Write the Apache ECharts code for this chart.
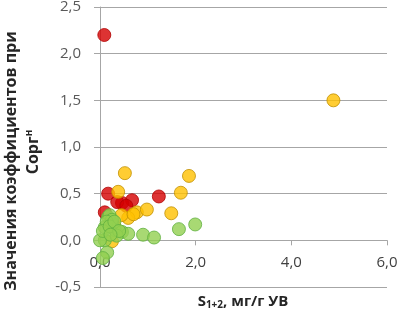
<!DOCTYPE html>
<html>
<head>
<meta charset="utf-8">
<script src="https://cdn.jsdelivr.net/npm/echarts@6/dist/echarts.min.js"></script>
<style>
  html, body { margin: 0; padding: 0; background: #fff; }
  #chart { width: 400px; height: 309px; }
</style>
</head>
<body>
<div id="chart"></div>
<script>
// values: [S1+2, coefficient]
const redPoints = [
  [0.09, 2.2], [0.17, 0.50], [0.67, 0.43], [1.23, 0.47],
  [0.46, 0.40], [0.36, 0.41], [0.10, 0.30], [0.55, 0.37]
]
const yellowPoints = [
  [4.88, 1.50], [0.52, 0.72], [0.38, 0.52], [0.77, 0.30], [0.98, 0.33],
  [0.59, 0.24], [1.86, 0.69], [1.69, 0.51], [1.49, 0.29], [0.25, -0.01],
  [0.45, 0.27], [0.70, 0.28], [0.30, 0.15]
]
const greenPoints = [
  [0.17, 0.25], [0.25, 0.18], [0.10, 0.14], [0.31, 0.11], [0.46, 0.09],
  [0.59, 0.07], [0.90, 0.06], [1.13, 0.03], [1.99, 0.17], [1.65, 0.12],
  [0.10, 0.00], [0.15, -0.13], [0.00, 0.00], [0.20, 0.27], [0.25, 0.22],
  [0.14, 0.20], [0.35, 0.05], [0.06, 0.10], [0.06, -0.19], [0.20, 0.15],
  [0.30, 0.20], [0.40, 0.10], [0.22, 0.06]
]
const xTicks = [0, 6, 2]
const yTicks = [-0.5, 2.5, 0.5]

const fmt = v => v.toFixed(1).replace('.', ',')

const gridTop = 7
const gridBottom = 22
const plotH = 309 - gridTop - gridBottom
// the x axis crosses at y = 0, lift it from the bottom edge
const xAxisLift = plotH * (0 - yTicks[0]) / (yTicks[1] - yTicks[0])

const chart = echarts.init(document.getElementById('chart'))

const dotSeries = (data, fill, border) => ({
  type: 'scatter',
  data: data,
  symbolSize: 13,
  itemStyle: { color: fill, borderColor: border, borderWidth: 1 }
})

chart.setOption({
  animation: false,
  textStyle: { fontFamily: 'Open Sans' },
  grid: { left: 100, right: 13, top: gridTop, bottom: gridBottom, outerBoundsMode: 'none', containLabel: false },
  xAxis: {
    type: 'value',
    position: 'bottom',
    offset: -xAxisLift,
    min: xTicks[0], max: xTicks[1], interval: xTicks[2],
    axisLine: { show: true, onZero: false, lineStyle: { color: '#a6a6a6' } },
    axisTick: { show: true, length: 5, lineStyle: { color: '#a6a6a6' } },
    axisLabel: { color: '#404040', fontSize: 15, margin: 15, formatter: fmt },
    splitLine: { show: false }
  },
  yAxis: {
    type: 'value',
    min: yTicks[0], max: yTicks[1], interval: yTicks[2],
    axisLine: { show: true, lineStyle: { color: '#a6a6a6' } },
    axisTick: { show: true, length: 6, lineStyle: { color: '#a6a6a6' } },
    axisLabel: { color: '#595959', fontSize: 15, margin: 19, formatter: fmt },
    splitLine: { lineStyle: { color: '#a6a6a6' } }
  },
  graphic: [
    {
      type: 'text', x: 11, y: 161, rotation: Math.PI / 2,
      style: {
        text: 'Значения коэффициентов при',
        font: 'bold 16px "Open Sans"', fill: '#262626',
        align: 'center', verticalAlign: 'middle'
      }
    },
    {
      type: 'text', x: 33, y: 152, rotation: Math.PI / 2,
      style: {
        text: '{a|Сорг}{b|н}',
        align: 'center', verticalAlign: 'middle',
        rich: {
          a: { font: 'bold 16px "Open Sans"', fill: '#262626' },
          b: { font: 'bold 10px "Open Sans"', fill: '#262626', verticalAlign: 'top', padding: [0, 0, 7, 0] }
        }
      }
    },
    {
      type: 'text', x: 243, y: 302,
      style: {
        text: '{a|S}{b|1+2}{a|, мг/г УВ}',
        align: 'center', verticalAlign: 'middle',
        rich: {
          a: { font: 'bold 15px "Open Sans"', fill: '#262626' },
          b: { font: 'bold 10px "Open Sans"', fill: '#262626', verticalAlign: 'bottom', padding: [6, 0, 0, 0] }
        }
      }
    }
  ],
  series: [
    dotSeries(redPoints, '#d40000', '#b00000'),
    dotSeries(yellowPoints, '#ffc000', '#c09000'),
    dotSeries(greenPoints, '#92d050', '#60b040')
  ]
})
</script>
</body>
</html>
